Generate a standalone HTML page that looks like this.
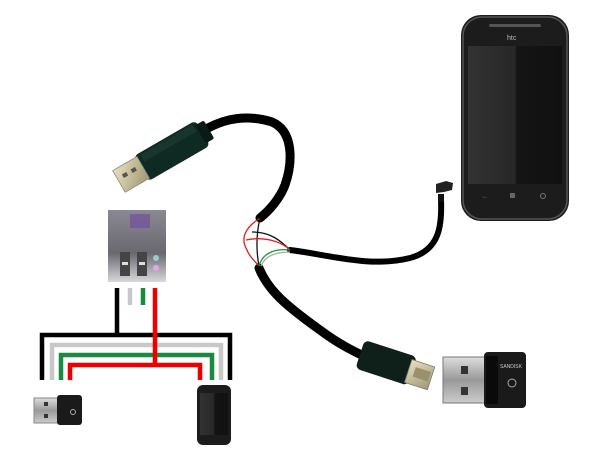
<!DOCTYPE html>
<html><head><meta charset="utf-8"><style>html,body{margin:0;padding:0;background:#fff}svg{display:block}</style></head>
<body>
<svg width="600" height="450" viewBox="0 0 600 450" xmlns="http://www.w3.org/2000/svg">
<defs>
<linearGradient id="metal" x1="0" y1="0" x2="0" y2="1"><stop offset="0" stop-color="#ddd"/><stop offset="0.5" stop-color="#999"/><stop offset="1" stop-color="#ccc"/></linearGradient>
<linearGradient id="gold" x1="0" y1="0" x2="1" y2="1"><stop offset="0" stop-color="#e8e0c0"/><stop offset="1" stop-color="#a09870"/></linearGradient>
<linearGradient id="scr" x1="0" y1="0" x2="1" y2="0"><stop offset="0" stop-color="#333"/><stop offset="0.5" stop-color="#272727"/><stop offset="0.52" stop-color="#141414"/><stop offset="1" stop-color="#111"/></linearGradient>
<linearGradient id="mb" x1="0" y1="0" x2="0" y2="1"><stop offset="0" stop-color="#8a8890"/><stop offset="0.6" stop-color="#6a6870"/><stop offset="1" stop-color="#d8d8dc"/></linearGradient>
</defs>

<g fill="none" stroke="#000" stroke-linecap="round">
<path d="M195 136 C215 122 240 112 272 122 C295 132 292 165 285 185 C280 198 270 210 260 218" stroke-width="9"/>
<path d="M259 268 C268 290 285 305 320 330 C340 345 355 352 372 360" stroke-width="9"/>
<path d="M290 250 C330 255 370 268 410 258 C440 250 442 225 441 200" stroke-width="6"/>
</g>
<g fill="none" stroke-width="1.3">
<path d="M260 218 C245 228 240 238 247 250 C250 258 256 262 259 266" stroke="#e02020"/>
<path d="M260 218 C256 235 256 250 259 266" stroke="#111"/>
<path d="M252 232 C270 232 280 240 290 250" stroke="#111"/>
<path d="M246 240 C265 236 282 242 290 250" stroke="#e02020"/>
<path d="M259 266 C262 255 272 248 290 250" stroke="#1a9a30"/>
<path d="M261 266 C265 256 275 252 290 252" stroke="#aaa"/>
</g>
<path d="M436 193 L436 184 L446 181 L453 183 L452 190 L444 192 Z" fill="#222"/>
<rect x="438" y="194" width="6" height="8" fill="#111"/>

<!-- USB A plug -->
<g transform="translate(162 156) rotate(-30)">
<rect x="-25" y="-14" width="72" height="29" rx="5" fill="#0f2a22"/>
<rect x="-18" y="-12" width="60" height="8" fill="#1e3c33" opacity="0.7"/>
<rect x="44" y="-10" width="10" height="21" rx="2" fill="#0a1a15"/>
<rect x="-50" y="-12" width="28" height="25" fill="url(#gold)" stroke="#888" stroke-width="0.8"/>
<rect x="-44" y="-4" width="5" height="4" fill="#555"/><rect x="-34" y="-4" width="5" height="4" fill="#555"/>
</g>

<!-- USB female -->
<g transform="translate(393 366) rotate(18)">
<rect x="-35" y="-16" width="55" height="30" rx="5" fill="#0f1f1a"/>
<rect x="16" y="-12" width="24" height="24" fill="url(#gold)" stroke="#777" stroke-width="0.8"/>
<rect x="22" y="-6" width="16" height="10" fill="#9a9070"/>
</g>

<rect x="443" y="357" width="47" height="46" fill="url(#metal)" stroke="#777"/>
<rect x="461" y="366" width="7" height="8" fill="#333"/><rect x="461" y="387" width="7" height="8" fill="#333"/>
<rect x="484" y="352" width="42" height="56" rx="4" fill="#1a1a1a"/>
<rect x="486" y="356" width="12" height="48" fill="#0a0a0a"/>
<text x="500" y="368" font-family="Liberation Sans, sans-serif" font-size="5" fill="#ccc">SANDISK</text>
<circle cx="512" cy="383" r="4" fill="none" stroke="#aaa" stroke-width="1"/>

<rect x="461" y="15" width="108" height="206" rx="20" fill="#1c1c1c"/>
<rect x="463" y="17" width="104" height="202" rx="19" fill="none" stroke="#555" stroke-width="1.5"/>
<rect x="489" y="24" width="52" height="3" rx="1.5" fill="#555"/>
<text x="507" y="40" font-family="Liberation Sans, sans-serif" font-size="7" fill="#bbb">htc</text>
<rect x="468" y="46" width="94" height="138" fill="url(#scr)"/>
<text x="482" y="198" font-family="Liberation Sans, sans-serif" font-size="6" fill="#777">←</text>
<rect x="510" y="193" width="5" height="5" fill="#666"/>
<circle cx="543" cy="196" r="2.5" fill="none" stroke="#777"/>

<rect x="108" y="210" width="58" height="72" fill="url(#mb)"/>
<rect x="130" y="214" width="20" height="14" fill="#7050a0" opacity="0.7"/>
<rect x="120" y="252" width="10" height="24" fill="#444"/><rect x="137" y="252" width="10" height="24" fill="#444"/>
<rect x="122" y="262" width="6" height="3" fill="#ddd"/><rect x="139" y="262" width="6" height="3" fill="#ddd"/>
<circle cx="156" cy="258" r="3" fill="#9cc"/><circle cx="156" cy="268" r="3" fill="#dad"/>

<g fill="none" stroke-width="4.5">
<path d="M117 288 V335" stroke="#000"/>
<path d="M130 288 V305" stroke="#c8c8c8"/>
<path d="M143 288 V305" stroke="#1a8a40"/>
<path d="M42 380 V335 H230 V380" stroke="#000"/>
<path d="M52 380 V345 H221 V380" stroke="#c8c8c8"/>
<path d="M61 380 V355 H212 V380" stroke="#1a8a40"/>
<path d="M70 380 V365 H200 V380" stroke="#ee0000"/>
<path d="M155 288 V365" stroke="#ee0000"/>
</g>

<rect x="34" y="398" width="26" height="25" fill="url(#metal)" stroke="#888"/>
<rect x="44" y="402" width="4" height="4" fill="#333"/><rect x="44" y="414" width="4" height="4" fill="#333"/>
<rect x="57" y="395" width="25" height="30" rx="3" fill="#1a1a1a"/>
<circle cx="73" cy="412" r="2.5" fill="none" stroke="#aaa"/>

<rect x="197" y="385" width="34" height="60" rx="6" fill="#1c1c1c"/>
<rect x="200" y="393" width="28" height="42" fill="url(#scr)"/>
</svg>
</body></html>
